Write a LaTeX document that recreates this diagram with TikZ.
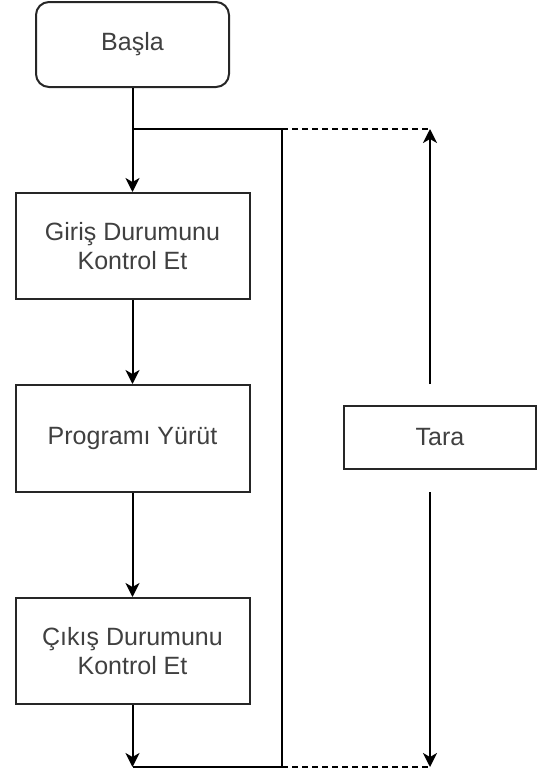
\documentclass[tikz,border=0pt]{standalone}
\usepackage{fontspec}
\setmainfont{Liberation Sans}
\usetikzlibrary{arrows.meta}
\begin{document}
\begin{tikzpicture}[x=1pt,y=-1pt,
  lbl/.style={text=black!75,font=\fontsize{25}{29}\selectfont,align=center},
  box/.style={draw=black!85,line width=2pt,fill=white,lbl,inner sep=0pt},
  conn/.style={line width=2pt,draw=black},
  arr/.style={conn,-{Stealth[length=14pt,width=14pt,inset=4pt]}},
  dashline/.style={line width=2pt,draw=black,dash pattern=on 6pt off 4pt}]
\useasboundingbox (0,0) rectangle (552,769);
\node[box,rounded corners=13pt,minimum width=193pt,minimum height=85pt] (start) at (132.5,44.5) {Başla};
\node[box,minimum width=234pt,minimum height=106pt] (in) at (132.5,246) {Giriş Durumunu\\Kontrol Et};
\node[box,minimum width=234pt,minimum height=107pt] (run) at (132.5,438.5) {Programı Yürüt};
\node[box,minimum width=234pt,minimum height=106pt] (out) at (132.5,651) {Çıkış Durumunu\\Kontrol Et};
\node[box,minimum width=192pt,minimum height=63pt] (scan) at (440,437.5) {Tara};
\coordinate (j1) at (132.5,129);
\coordinate (j2) at (282,129);
\coordinate (j3) at (430,129);
\coordinate (b1) at (132.5,767);
\coordinate (b2) at (282,767);
\coordinate (b3) at (430,767);
\coordinate (u0) at (430,384);
\coordinate (d0) at (430,492);
\draw[conn] (start.south) -- (j1);
\draw[arr] (j1) -- (in.north);
\draw[arr] (in.south) -- (run.north);
\draw[arr] (run.south) -- (out.north);
\draw[arr] (out.south) -- (b1);
\draw[conn] (j1) -- (j2) -- (b2) -- (b1);
\draw[dashline] (j2) -- (j3);
\draw[dashline] (b2) -- (b3);
\draw[arr] (u0) -- (j3);
\draw[arr] (d0) -- (b3);
\end{tikzpicture}
\end{document}
